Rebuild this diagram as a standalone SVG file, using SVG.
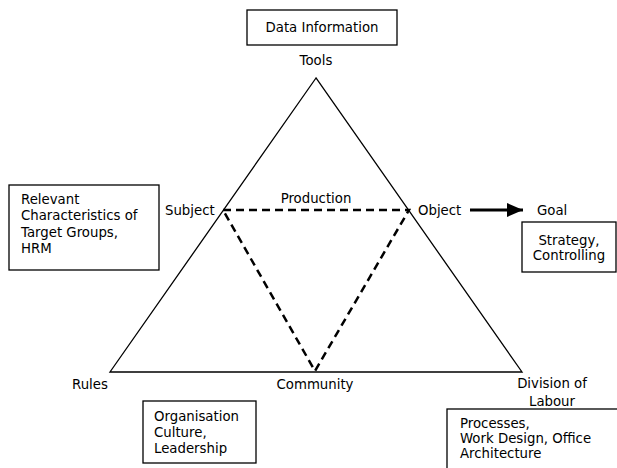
<svg xmlns="http://www.w3.org/2000/svg" width="617" height="468" viewBox="0 0 617 468">
<defs>
<style>
text{font-family:"DejaVu Sans","Liberation Sans",sans-serif;font-size:13.3px;fill:#000}
.c{text-anchor:middle}
.box{fill:#fff;stroke:#000;stroke-width:1.3}
.solid{fill:none;stroke:#000;stroke-width:1.3}
.dash{fill:none;stroke:#000;stroke-width:2.5;stroke-dasharray:8,5}
</style>
<marker id="ah" markerWidth="16" markerHeight="14" refX="16" refY="7" orient="auto" markerUnits="userSpaceOnUse" viewBox="0 0 16 14">
<path d="M0,0 L16,7 L0,14 z" fill="#000"/>
</marker>
</defs>
<rect width="617" height="468" fill="#fff"/>
<g id="connectors">
<polygon class="solid" points="316,78 110,372 522,372"/>
<polyline class="dash" points="223,210 409,210 315,371 223,210"/>
<line x1="470" y1="210" x2="523" y2="210" stroke="#000" stroke-width="3" marker-end="url(#ah)"/>
</g>
<g id="tools"><text class="c" x="316" y="65">Tools</text></g>
<g id="data-information"><rect class="box" x="247" y="10" width="150" height="35"/><text class="c" x="322" y="32">Data Information</text></g>
<g id="subject"><text x="165" y="215">Subject</text></g>
<g id="object"><text x="418" y="215">Object</text></g>
<g id="production"><text class="c" x="316" y="203">Production</text></g>
<g id="goal"><text x="537" y="215">Goal</text></g>
<g id="strategy"><rect class="box" x="522" y="222" width="94" height="50"/><text class="c" x="569" y="245">Strategy,</text><text class="c" x="569" y="260">Controlling</text></g>
<g id="relevant"><rect class="box" x="9" y="185" width="150" height="85"/><text x="21" y="204">Relevant</text><text x="21" y="220">Characteristics of</text><text x="21" y="237">Target Groups,</text><text x="21" y="253">HRM</text></g>
<g id="rules"><text x="72" y="389">Rules</text></g>
<g id="community"><text class="c" x="315" y="389">Community</text></g>
<g id="division"><text class="c" x="552" y="388">Division of</text><text class="c" x="552" y="406">Labour</text></g>
<g id="organisation"><rect class="box" x="143" y="401" width="113" height="62"/><text x="154" y="421">Organisation</text><text x="154" y="437">Culture,</text><text x="154" y="453">Leadership</text></g>
<g id="processes"><rect class="box" x="447" y="409" width="175" height="65"/><text x="460" y="428">Processes,</text><text x="460" y="443">Work Design, Office</text><text x="460" y="458">Architecture</text></g>
</svg>
